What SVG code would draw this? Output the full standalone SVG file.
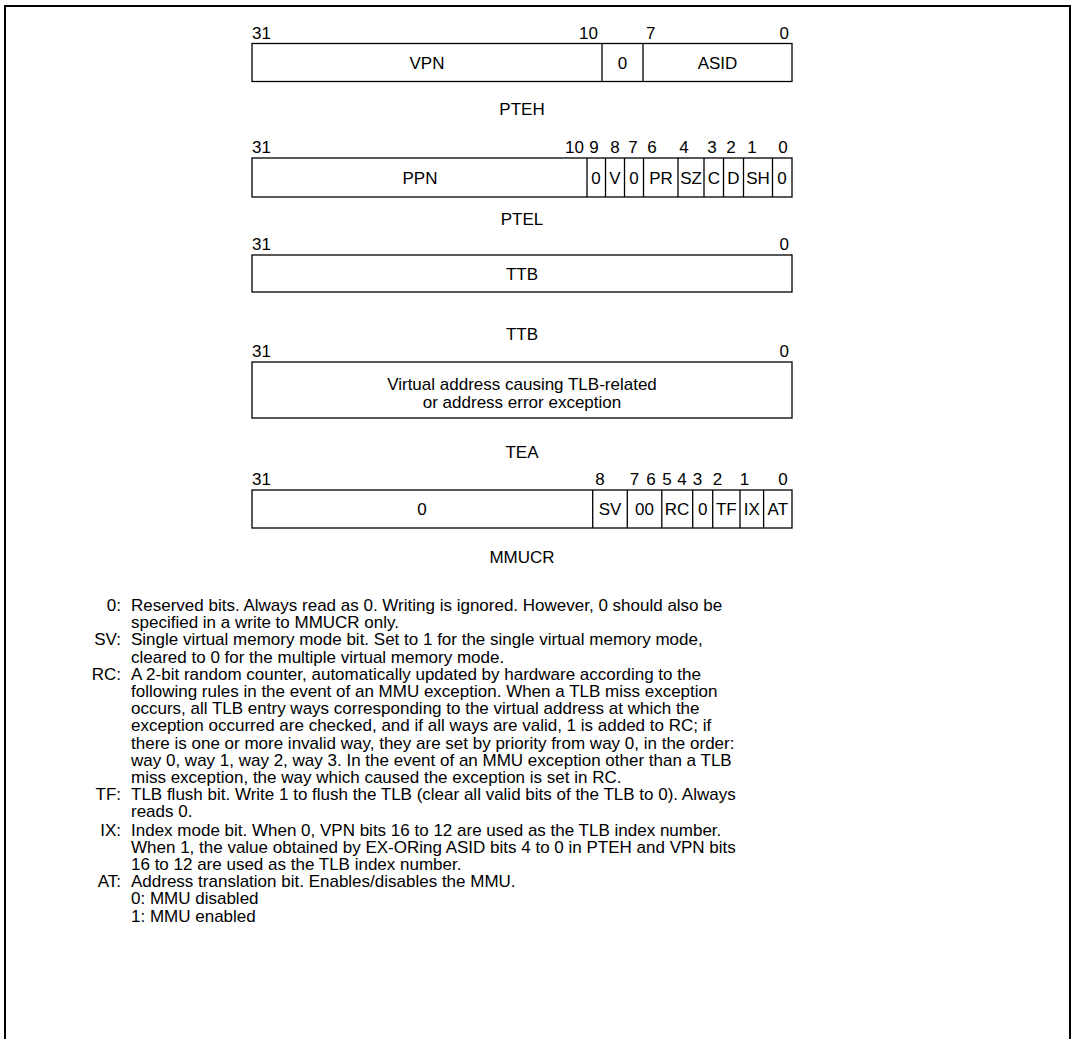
<svg xmlns="http://www.w3.org/2000/svg" width="1074" height="1039" viewBox="0 0 1074 1039">
<style>
text{font-family:"Liberation Sans",Arial,sans-serif;font-size:17px;fill:#000}
.c{text-anchor:middle}
.e{text-anchor:end}
.box{fill:#fff;stroke:#000;stroke-width:1.3}
.div{stroke:#000;stroke-width:1.3}
.frame{fill:none;stroke:#000;stroke-width:2}
</style>
<rect width="1074" height="1039" fill="#fff"/>
<path class="frame" d="M5,1039V6H1070V1039"/>

<g id="pteh">
<text x="252" y="39">31</text>
<text class="e" x="598" y="39">10</text>
<text x="646" y="39">7</text>
<text class="e" x="789" y="39">0</text>
<rect class="box" x="252" y="43.5" width="540" height="38"/>
<line class="div" x1="602" y1="43.5" x2="602" y2="81.5"/>
<line class="div" x1="643" y1="43.5" x2="643" y2="81.5"/>
<text class="c" x="427" y="68.5">VPN</text>
<text class="c" x="622.5" y="68.5">0</text>
<text class="c" x="717.5" y="68.5">ASID</text>
<text class="c" x="522" y="115">PTEH</text>
</g>

<g id="ptel">
<text x="252" y="153">31</text>
<text class="e" x="584" y="153">10</text>
<text class="c" x="594" y="153">9</text>
<text class="c" x="615" y="153">8</text>
<text class="c" x="633" y="153">7</text>
<text class="c" x="652" y="153">6</text>
<text class="c" x="684" y="153">4</text>
<text class="c" x="712" y="153">3</text>
<text class="c" x="731" y="153">2</text>
<text class="c" x="752" y="153">1</text>
<text class="c" x="783" y="153">0</text>
<rect class="box" x="252" y="158" width="540" height="39"/>
<g class="div">
<line x1="587" y1="158" x2="587" y2="197"/>
<line x1="605.5" y1="158" x2="605.5" y2="197"/>
<line x1="624.5" y1="158" x2="624.5" y2="197"/>
<line x1="643.5" y1="158" x2="643.5" y2="197"/>
<line x1="678" y1="158" x2="678" y2="197"/>
<line x1="704" y1="158" x2="704" y2="197"/>
<line x1="723.5" y1="158" x2="723.5" y2="197"/>
<line x1="743.5" y1="158" x2="743.5" y2="197"/>
<line x1="772.5" y1="158" x2="772.5" y2="197"/>
</g>
<text class="c" x="420" y="183.5">PPN</text>
<text class="c" x="596" y="183.5">0</text>
<text class="c" x="615" y="183.5">V</text>
<text class="c" x="634" y="183.5">0</text>
<text class="c" x="661" y="183.5">PR</text>
<text class="c" x="691" y="183.5">SZ</text>
<text class="c" x="714" y="183.5">C</text>
<text class="c" x="733.5" y="183.5">D</text>
<text class="c" x="758" y="183.5">SH</text>
<text class="c" x="782" y="183.5">0</text>
<text class="c" x="522" y="225">PTEL</text>
</g>

<g id="ttb">
<text x="252" y="250">31</text>
<text class="e" x="789" y="250">0</text>
<rect class="box" x="252" y="255" width="540" height="37"/>
<text class="c" x="522" y="280">TTB</text>
<text class="c" x="522" y="340">TTB</text>
</g>

<g id="tea">
<text x="252" y="357">31</text>
<text class="e" x="789" y="357">0</text>
<rect class="box" x="252" y="362" width="540" height="56"/>
<text class="c" x="522" y="390">Virtual address causing TLB-related</text>
<text class="c" x="522" y="408">or address error exception</text>
<text class="c" x="522" y="458">TEA</text>
</g>

<g id="mmucr">
<text x="252" y="485">31</text>
<text class="c" x="600" y="485">8</text>
<text class="c" x="634.5" y="485">7</text>
<text class="c" x="651" y="485">6</text>
<text class="c" x="667" y="485">5</text>
<text class="c" x="682" y="485">4</text>
<text class="c" x="697.5" y="485">3</text>
<text class="c" x="717.5" y="485">2</text>
<text class="c" x="744.5" y="485">1</text>
<text class="c" x="783" y="485">0</text>
<rect class="box" x="252" y="490" width="540" height="38"/>
<g class="div">
<line x1="592.7" y1="490" x2="592.7" y2="528"/>
<line x1="627.3" y1="490" x2="627.3" y2="528"/>
<line x1="661.8" y1="490" x2="661.8" y2="528"/>
<line x1="692.7" y1="490" x2="692.7" y2="528"/>
<line x1="712.7" y1="490" x2="712.7" y2="528"/>
<line x1="740" y1="490" x2="740" y2="528"/>
<line x1="763.6" y1="490" x2="763.6" y2="528"/>
</g>
<text class="c" x="422" y="515">0</text>
<text class="c" x="610" y="515">SV</text>
<text class="c" x="644.5" y="515">00</text>
<text class="c" x="677" y="515">RC</text>
<text class="c" x="702.7" y="515">0</text>
<text class="c" x="726.3" y="515">TF</text>
<text class="c" x="751.8" y="515">IX</text>
<text class="c" x="777.8" y="515">AT</text>
<text class="c" x="522" y="563">MMUCR</text>
</g>

<g id="notes">
<text class="e" x="121" y="611">0:</text>
<text x="131" y="611">Reserved bits. Always read as 0. Writing is ignored. However, 0 should also be</text>
<text x="131" y="628.2">specified in a write to MMUCR only.</text>
<text class="e" x="121" y="645.4">SV:</text>
<text x="131" y="645.4">Single virtual memory mode bit. Set to 1 for the single virtual memory mode,</text>
<text x="131" y="662.6">cleared to 0 for the multiple virtual memory mode.</text>
<text class="e" x="121" y="679.8">RC:</text>
<text x="131" y="679.8">A 2-bit random counter, automatically updated by hardware according to the</text>
<text x="131" y="697">following rules in the event of an MMU exception. When a TLB miss exception</text>
<text x="131" y="714.2">occurs, all TLB entry ways corresponding to the virtual address at which the</text>
<text x="131" y="731.4">exception occurred are checked, and if all ways are valid, 1 is added to RC; if</text>
<text x="131" y="748.6">there is one or more invalid way, they are set by priority from way 0, in the order:</text>
<text x="131" y="765.8">way 0, way 1, way 2, way 3. In the event of an MMU exception other than a TLB</text>
<text x="131" y="783">miss exception, the way which caused the exception is set in RC.</text>
<text class="e" x="121" y="800.2">TF:</text>
<text x="131" y="800.2">TLB flush bit. Write 1 to flush the TLB (clear all valid bits of the TLB to 0). Always</text>
<text x="131" y="817.4">reads 0.</text>
<text class="e" x="121" y="835.6">IX:</text>
<text x="131" y="835.6">Index mode bit. When 0, VPN bits 16 to 12 are used as the TLB index number.</text>
<text x="131" y="852.8">When 1, the value obtained by EX-ORing ASID bits 4 to 0 in PTEH and VPN bits</text>
<text x="131" y="870">16 to 12 are used as the TLB index number.</text>
<text class="e" x="121" y="887.2">AT:</text>
<text x="131" y="887.2">Address translation bit. Enables/disables the MMU.</text>
<text x="131" y="904.4">0: MMU disabled</text>
<text x="131" y="921.6">1: MMU enabled</text>
</g>
</svg>
